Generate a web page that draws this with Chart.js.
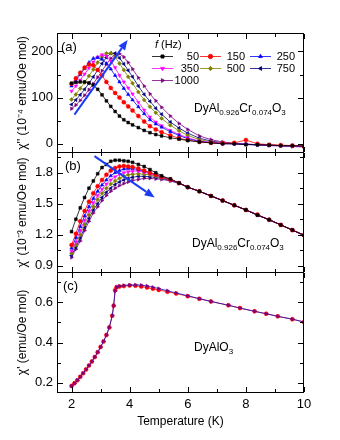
<!DOCTYPE html>
<html>
<head>
<meta charset="utf-8">
<script src="https://cdn.jsdelivr.net/npm/chart.js@4.4.1/dist/chart.umd.min.js"></script>
<style>
  body { margin: 0; background: #fff; }
  #wrap { position: relative; width: 340px; height: 440px; overflow: hidden; }
  canvas { position: absolute; left: 0; }
  .box { position: absolute; box-sizing: border-box; border: 1px solid #000; pointer-events: none; }
</style>
</head>
<body>
<div id="wrap">
  <canvas id="chartA" width="340" height="165" style="top:0px"></canvas>
  <canvas id="chartB" width="340" height="145" style="top:140px"></canvas>
  <canvas id="chartC" width="340" height="180" style="top:260px"></canvas>
</div>
<script>
const FONT = '"Liberation Sans", Arial, sans-serif';

// temperature (K) for the DyAl0.926Cr0.074O3 curves
const temps = [2.0, 2.15, 2.3, 2.45, 2.6, 2.75, 2.9, 3.05, 3.2, 3.35, 3.5, 3.65, 3.8, 3.95, 4.1, 4.3, 4.5,
  4.7, 4.9, 5.1, 5.4, 5.7, 6.0, 6.4, 6.8, 7.2, 7.6, 8.0, 8.4, 8.8, 9.2, 9.6, 10.0];
const freqs = ['50', '150', '250', '350', '500', '750', '1000'];

// (a) chi'' in 1e-4 emu/Oe mol
const chi2_50   = [131, 133, 134, 134, 132, 127, 118, 106, 93, 81, 70, 60, 52, 46, 41, 35, 29, 24, 20, 17, 13, 10, 7, 4, 2, 0, 0, -2, -2, -3, -4, -4, -5];
const chi2_150  = [130, 142, 154, 165, 172, 170, 160, 148, 134, 121, 110, 100, 90, 81, 72, 60, 48, 38, 31, 25, 18, 12, 8, 4, 2, 1, 2, 8, 0, -2, -3, -4, -5];
const chi2_250  = [125, 137, 150, 163, 176, 185, 187, 183, 174, 162, 148, 134, 120, 107, 95, 80, 65, 52, 43, 36, 26, 18, 11, 5, 2, 0, 0, -1, -2, -3, -4, -5, -5];
const chi2_350  = [114, 125, 138, 151, 164, 177, 188, 193, 190, 180, 165, 148, 134, 121, 108, 90, 73, 58, 47, 39, 29, 20, 13, 6, 3, 1, 0, -1, -2, -3, -4, -5, -6];
const chi2_500  = [96, 107, 120, 133, 147, 161, 176, 188, 196, 196, 188, 174, 160, 145, 131, 112, 95, 80, 67, 55, 40, 28, 18, 9, 4, 1, 0, -1, -2, -3, -4, -5, -6];
const chi2_750  = [85, 95, 106, 118, 131, 145, 160, 174, 187, 196, 196, 186, 173, 159, 145, 125, 107, 92, 77, 64, 47, 34, 23, 12, 6, 2, 0, -1, -2, -3, -4, -5, -6];
const chi2_1000 = [76, 84, 94, 105, 117, 130, 144, 158, 172, 185, 194, 195, 188, 176, 162, 143, 125, 108, 93, 79, 60, 44, 31, 17, 9, 4, 1, -1, -3, -4, -5, -6, -7];

// (b) chi' in 1e-3 emu/Oe mol
const chi1_50   = [1.23, 1.35, 1.46, 1.56, 1.65, 1.72, 1.79, 1.85, 1.88, 1.91, 1.92, 1.92, 1.915, 1.91, 1.90, 1.88, 1.86, 1.83, 1.80, 1.77, 1.74, 1.70, 1.66, 1.62, 1.575, 1.53, 1.485, 1.44, 1.39, 1.345, 1.295, 1.245, 1.195];
const chi1_150  = [1.10, 1.21, 1.33, 1.43, 1.52, 1.60, 1.67, 1.73, 1.78, 1.82, 1.845, 1.86, 1.865, 1.86, 1.855, 1.84, 1.82, 1.80, 1.78, 1.76, 1.735, 1.70, 1.66, 1.62, 1.575, 1.53, 1.485, 1.44, 1.395, 1.345, 1.295, 1.245, 1.195];
const chi1_250  = [1.07, 1.17, 1.28, 1.38, 1.47, 1.55, 1.62, 1.68, 1.73, 1.77, 1.80, 1.82, 1.835, 1.84, 1.84, 1.83, 1.815, 1.80, 1.78, 1.76, 1.735, 1.70, 1.66, 1.62, 1.575, 1.53, 1.485, 1.44, 1.39, 1.345, 1.295, 1.245, 1.195];
const chi1_350  = [1.04, 1.13, 1.24, 1.34, 1.43, 1.51, 1.58, 1.64, 1.69, 1.73, 1.76, 1.785, 1.80, 1.81, 1.815, 1.815, 1.805, 1.79, 1.775, 1.755, 1.73, 1.70, 1.66, 1.62, 1.575, 1.53, 1.485, 1.44, 1.39, 1.345, 1.295, 1.245, 1.195];
const chi1_500  = [1.02, 1.10, 1.20, 1.30, 1.39, 1.47, 1.54, 1.60, 1.65, 1.69, 1.72, 1.745, 1.765, 1.78, 1.785, 1.79, 1.785, 1.78, 1.765, 1.75, 1.73, 1.70, 1.66, 1.62, 1.575, 1.53, 1.485, 1.44, 1.39, 1.345, 1.295, 1.245, 1.195];
const chi1_750  = [1.00, 1.08, 1.17, 1.27, 1.36, 1.44, 1.50, 1.56, 1.61, 1.65, 1.685, 1.71, 1.73, 1.745, 1.755, 1.765, 1.765, 1.76, 1.755, 1.745, 1.725, 1.70, 1.66, 1.62, 1.575, 1.53, 1.485, 1.44, 1.39, 1.345, 1.295, 1.245, 1.195];
const chi1_1000 = [0.98, 1.06, 1.14, 1.24, 1.33, 1.41, 1.47, 1.53, 1.58, 1.62, 1.65, 1.675, 1.695, 1.71, 1.725, 1.735, 1.745, 1.745, 1.74, 1.735, 1.72, 1.695, 1.66, 1.62, 1.575, 1.53, 1.485, 1.44, 1.39, 1.345, 1.295, 1.245, 1.195];

// (c) DyAlO3, chi' in emu/Oe mol
const tempsC = [2.0, 2.1, 2.2, 2.3, 2.4, 2.5, 2.6, 2.7, 2.8, 2.9, 3.0, 3.1, 3.2, 3.3, 3.4, 3.45, 3.5, 3.55, 3.65,
  3.8, 4.0, 4.2, 4.4, 4.6, 4.8, 5.0, 5.3, 5.6, 6.0, 6.4, 6.8, 7.4, 7.8, 8.3, 8.7, 9.1, 9.6, 10.0];
const chiC_150 = [0.185, 0.198, 0.213, 0.23, 0.248, 0.267, 0.286, 0.306, 0.328, 0.352, 0.378, 0.405, 0.437, 0.475, 0.533, 0.583, 0.66, 0.675, 0.678,
  0.68, 0.683, 0.682, 0.678, 0.673, 0.667, 0.661, 0.652, 0.643, 0.630, 0.617, 0.604, 0.585, 0.571, 0.555, 0.543, 0.53, 0.516, 0.502];
const chiC = [0.185, 0.198, 0.213, 0.23, 0.248, 0.267, 0.286, 0.306, 0.328, 0.352, 0.378, 0.405, 0.437, 0.475, 0.533, 0.583, 0.655, 0.675, 0.68,
  0.683, 0.686, 0.686, 0.685, 0.681, 0.675, 0.668, 0.657, 0.646, 0.632, 0.618, 0.604, 0.585, 0.571, 0.555, 0.543, 0.53, 0.516, 0.502];

// ticks
const xTicks = [2, 4, 6, 8, 10];
const xMinor = [3, 5, 7, 9];
const yTicksA = [0, 100, 200], yMinorA = [50, 150];
const yTicksB = [0.9, 1.2, 1.5, 1.8], yMinorB = [1.05, 1.35, 1.65, 1.95];
const yTicksC = [0.2, 0.4, 0.6], yMinorC = [0.3, 0.5, 0.7];

const looks = [
  { color: '#000000', pointStyle: 'rect', rot: 0 },
  { color: '#ff0000', pointStyle: 'circle', rot: 0 },
  { color: '#0000ff', pointStyle: 'triangle', rot: 0 },
  { color: '#ff00ff', pointStyle: 'triangle', rot: 180 },
  { color: '#808000', pointStyle: 'rectRot', rot: 0 },
  { color: '#000080', pointStyle: 'triangle', rot: -90 },
  { color: '#800080', pointStyle: 'triangle', rot: 90 }
];

function series(label, xs, ys, look, lineColor) {
  return {
    label: label,
    data: xs.map((t, i) => ({ x: t, y: ys[i] })),
    borderColor: lineColor || look.color,
    backgroundColor: look.color,
    pointBackgroundColor: look.color,
    pointBorderColor: look.color,
    pointStyle: look.pointStyle,
    pointRotation: look.rot,
    pointRadius: 2,
    pointBorderWidth: 0.5,
    borderWidth: 0.8,
    tension: 0
  };
}

const setsA = [chi2_50, chi2_150, chi2_250, chi2_350, chi2_500, chi2_750, chi2_1000]
  .map((ys, i) => series(freqs[i], temps, ys, looks[i]));
const setsB = [chi1_50, chi1_150, chi1_250, chi1_350, chi1_500, chi1_750, chi1_1000]
  .map((ys, i) => series(freqs[i], temps, ys, looks[i]));
// first dataset is drawn on top
const setsC = [
  series('1000', tempsC, chiC, looks[6], '#1010c0'),
  series('150', tempsC, chiC_150, looks[1])
];

function drawArrow(ctx, x1, y1, x2, y2) {
  const ang = Math.atan2(y2 - y1, x2 - x1);
  const head = 10, half = 4;
  ctx.strokeStyle = '#1a3cf5';
  ctx.fillStyle = '#1a3cf5';
  ctx.lineWidth = 2;
  ctx.beginPath();
  ctx.moveTo(x1, y1);
  ctx.lineTo(x2 - head * Math.cos(ang), y2 - head * Math.sin(ang));
  ctx.stroke();
  ctx.beginPath();
  ctx.moveTo(x2, y2);
  ctx.lineTo(x2 - head * Math.cos(ang) + half * Math.sin(ang), y2 - head * Math.sin(ang) - half * Math.cos(ang));
  ctx.lineTo(x2 - head * Math.cos(ang) - half * Math.sin(ang), y2 - head * Math.sin(ang) + half * Math.cos(ang));
  ctx.closePath();
  ctx.fill();
}

function drawFormula(ctx, parts, x, y) {
  ctx.fillStyle = '#000';
  ctx.textAlign = 'left';
  ctx.textBaseline = 'alphabetic';
  parts.forEach(([t, sub]) => {
    ctx.font = (sub ? '8px ' : '12px ') + FONT;
    ctx.fillText(t, x, sub ? y + 3 : y);
    x += ctx.measureText(t).width;
  });
}

const deco = {
  id: 'deco',
  // frame and inward ticks
  afterDatasetsDraw(chart, args, o) {
    const { ctx, chartArea: a } = chart;
    const sx = chart.scales.x, sy = chart.scales.y;
    const L = Math.round(a.left), R = Math.round(a.right) - 1;
    const T = Math.round(a.top), B = Math.round(a.bottom) - 1;
    ctx.save();
    ctx.fillStyle = '#000000';
    ctx.fillRect(L, T, R - L + 1, 1);
    ctx.fillRect(L, B, R - L + 1, 1);
    ctx.fillRect(L, T, 1, B - T + 1);
    ctx.fillRect(R, T, 1, B - T + 1);
    const xt = (vals, len) => vals.forEach(v => {
      const p = Math.round(sx.getPixelForValue(v));
      ctx.fillRect(p, B - len, 1, len);
      ctx.fillRect(p, T + 1, 1, len);
    });
    const yt = (vals, len) => vals.forEach(v => {
      const p = Math.round(sy.getPixelForValue(v));
      ctx.fillRect(L + 1, p, len, 1);
      ctx.fillRect(R - len, p, len, 1);
    });
    xt(xTicks, 5); xt(xMinor, 3);
    yt(o.yMajor, 5); yt(o.yMinor, 3);
    ctx.restore();
  },
  // labels, arrows, legend
  afterDraw(chart, args, o) {
    const { ctx, chartArea: a } = chart;
    const sx = chart.scales.x, sy = chart.scales.y;
    ctx.save();
    ctx.fillStyle = '#000';
    ctx.font = '13px ' + FONT;
    ctx.textAlign = 'left';
    ctx.textBaseline = 'alphabetic';
    ctx.fillText(o.tag, a.left + o.tagDx, a.top + 18);

    drawFormula(ctx, o.formula, o.fx, a.top + o.fy);

    if (o.arrow) {
      const [t1, v1, t2, v2] = o.arrow;
      drawArrow(ctx, sx.getPixelForValue(t1), sy.getPixelForValue(v1), sx.getPixelForValue(t2), sy.getPixelForValue(v2));
    }

    if (o.legend) {
      ctx.fillStyle = '#000';
      ctx.textBaseline = 'middle';
      ctx.textAlign = 'left';
      ctx.font = 'italic 11px ' + FONT;
      ctx.fillText('f', 155, 45);
      ctx.font = '11px ' + FONT;
      ctx.fillText('(Hz)', 161, 45);
      const lineX = [152, 200, 250], textX = [199, 245, 295];
      chart.data.datasets.forEach((ds, i) => {
        const c = i % 3, r = Math.floor(i / 3);
        const x0 = lineX[c], y0 = 56.5 + r * 12;
        ctx.strokeStyle = ds.borderColor;
        ctx.lineWidth = 0.8;
        ctx.beginPath();
        ctx.moveTo(x0, y0); ctx.lineTo(x0 + 21, y0);
        ctx.stroke();
        ctx.fillStyle = ds.backgroundColor;
        ctx.strokeStyle = ds.backgroundColor;
        Chart.helpers.drawPoint(ctx, { pointStyle: ds.pointStyle, rotation: ds.pointRotation, radius: 2.2, borderWidth: 0.5 }, x0 + 10.5, y0);
        ctx.fillStyle = '#000';
        ctx.textAlign = 'right';
        ctx.fillText(ds.label, textX[c], y0);
      });
    }
    ctx.restore();
  }
};

function makePanel(id, datasets, p) {
  return new Chart(document.getElementById(id), {
    type: 'line',
    data: { datasets: datasets },
    plugins: [deco],
    options: {
      responsive: false,
      animation: false,
      layout: { padding: p.padding },
      plugins: {
        legend: { display: false },
        tooltip: { enabled: false },
        deco: p.deco
      },
      scales: {
        x: {
          type: 'linear',
          min: 1.5,
          max: 10,
          grid: { display: false, drawTicks: false },
          border: { display: false },
          afterBuildTicks: s => { s.ticks = xTicks.map(v => ({ value: v })); },
          afterFit: s => { s.height = p.xHeight; },
          ticks: { display: p.xLabels, color: '#000', padding: 4, font: { family: FONT, size: 13 } },
          title: {
            display: p.xLabels,
            text: 'Temperature (K)',
            color: '#000',
            font: { family: FONT, size: 12 },
            padding: { top: 0, bottom: 11 }
          }
        },
        y: {
          min: p.yMin,
          max: p.yMax,
          grid: { display: false, drawTicks: false },
          border: { display: false },
          afterBuildTicks: s => { s.ticks = p.deco.yMajor.map(v => ({ value: v })); },
          afterFit: s => { s.width = 57; },
          ticks: {
            color: '#000',
            padding: 4,
            font: { family: FONT, size: 13 },
            callback: v => p.fmt(v)
          },
          title: {
            display: true,
            text: p.yTitle,
            color: '#000',
            font: { family: FONT, size: 12 },
            padding: { top: 15, bottom: 0 }
          }
        }
      }
    }
  });
}

const crFormula = [['DyAl', 0], ['0.926', 1], ['Cr', 0], ['0.074', 1], ['O', 0], ['3', 1]];

const chartA = makePanel('chartA', setsA, {
  padding: { top: 33, right: 36, bottom: 12, left: 0 },
  xHeight: 0, xLabels: false,
  yMin: -20, yMax: 240,
  fmt: v => String(v),
  yTitle: "\u03c7'' (10\u207b\u2074 emu/Oe mol)",
  deco: {
    yMajor: yTicksA, yMinor: yMinorA, tag: '(a)', tagDx: 4,
    formula: crFormula, fx: 194, fy: 79,
    arrow: [2.1, 63, 3.93, 225],
    legend: true
  }
});

const chartB = makePanel('chartB', setsB, {
  padding: { top: 12, right: 36, bottom: 12, left: 0 },
  xHeight: 0, xLabels: false,
  yMin: 0.83, yMax: 2.0,
  fmt: v => v.toFixed(1),
  yTitle: "\u03c7' (10\u207b\u00b3 emu/Oe mol)",
  deco: {
    yMajor: yTicksB, yMinor: yMinorB, tag: '(b)', tagDx: 8,
    formula: crFormula, fx: 192, fy: 95,
    arrow: [2.79, 1.96, 4.86, 1.56],
    legend: false
  }
});

const chartC = makePanel('chartC', setsC, {
  padding: { top: 12, right: 36, bottom: 0, left: 0 },
  xHeight: 47, xLabels: true,
  yMin: 0.15, yMax: 0.75,
  fmt: v => v.toFixed(1),
  yTitle: "\u03c7' (emu/Oe mol)",
  deco: {
    yMajor: yTicksC, yMinor: yMinorC, tag: '(c)', tagDx: 6,
    formula: [['DyAlO', 0], ['3', 1]], fx: 194, fy: 79,
    arrow: null,
    legend: false
  }
});

// plot frames placed on the chart areas the library computed
[[chartA, 0], [chartB, 140], [chartC, 260]].forEach(([ch, top]) => {
  const a = ch.chartArea;
  const L = Math.round(a.left), R = Math.round(a.right) - 1;
  const T = Math.round(a.top), B = Math.round(a.bottom) - 1;
  const d = document.createElement('div');
  d.className = 'box';
  d.style.left = L + 'px';
  d.style.top = (top + T) + 'px';
  d.style.width = (R - L + 1) + 'px';
  d.style.height = (B - T + 1) + 'px';
  document.getElementById('wrap').appendChild(d);
});
</script>
</body>
</html>
